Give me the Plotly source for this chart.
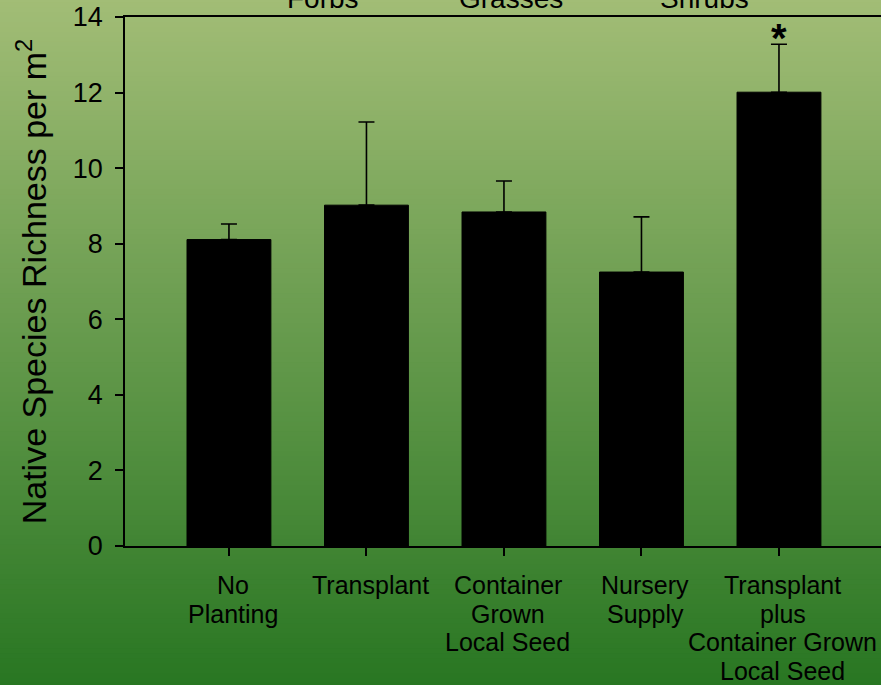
import plotly.graph_objects as go

# Planting treatments and native species richness (mean, upper error)
categories = [
    "No<br>Planting",
    "Transplant",
    "Container<br>Grown<br>Local Seed",
    "Nursery<br>Supply",
    "Transplant<br>plus<br>Container Grown<br>Local Seed",
]
richness = [8.11, 9.02, 8.84, 7.25, 12.01]
error_up = [0.41, 2.20, 0.82, 1.46, 1.27]
significance = ["", "", "", "", "*"]
group_labels = ["Forbs", "Grasses", "Shrubs"]
group_positions = [0.684, 2.05, 3.46]

y_ticks = [0, 2, 4, 6, 8, 10, 12, 14]

FONT = "Liberation Sans, Arial, sans-serif"
LABEL_SIZE = 25
LINE_STEP = 28.5

fig = go.Figure()

fig.add_trace(go.Bar(
    x=list(range(len(categories))),
    y=richness,
    width=0.61,
    marker=dict(color="black", line=dict(color="black", width=1)),
    error_y=dict(type="data", array=error_up, arrayminus=[0] * len(error_up),
                 symmetric=False, color="black", thickness=1.6, width=8),
    showlegend=False,
))

# vertical background gradient (light olive at top to deep green at bottom)
top_rgb = (162, 189, 118)
bot_rgb = (40, 118, 34)
n_strips = 140
y_top, y_bot = 1.035, -0.27
shapes = []
for i in range(n_strips):
    t = i / (n_strips - 1)
    c = tuple(round(top_rgb[k] + (bot_rgb[k] - top_rgb[k]) * t) for k in range(3))
    y0 = y_top + (y_bot - y_top) * i / n_strips
    y1 = y_top + (y_bot - y_top) * (i + 1) / n_strips
    shapes.append(dict(type="rect", xref="paper", yref="paper",
                       x0=-0.2, x1=1.05, y0=y1 - 0.002, y1=y0 + 0.002,
                       fillcolor="rgb(%d,%d,%d)" % c, line=dict(width=0),
                       layer="below"))

annotations = []
for lab, pos in zip(group_labels, group_positions):
    annotations.append(dict(x=pos, y=1, xref="x", yref="paper", text=lab,
                            showarrow=False, yanchor="bottom", yshift=1,
                            font=dict(family=FONT, size=28, color="black")))
for i, s in enumerate(significance):
    if s:
        annotations.append(dict(x=i, y=richness[i] + error_up[i], xref="x", yref="y",
                                text="<b>%s</b>" % s, showarrow=False, yanchor="bottom",
                                yshift=-18,
                                font=dict(family=FONT, size=40, color="black")))

# category labels, one line at a time for tight line spacing
for i, lab in enumerate(categories):
    for k, line in enumerate(lab.split("<br>")):
        annotations.append(dict(x=i, y=0, xref="x", yref="paper", text=line,
                                showarrow=False, yanchor="top", xshift=4,
                                yshift=-23 - k * LINE_STEP,
                                font=dict(family=FONT, size=LABEL_SIZE, color="black")))

fig.update_layout(
    width=881, height=685,
    margin=dict(l=125, r=0, t=17, b=139),
    paper_bgcolor="rgba(0,0,0,0)",
    plot_bgcolor="rgba(0,0,0,0)",
    font=dict(family=FONT, color="black"),
    shapes=shapes,
    annotations=annotations,
    bargap=0.3,
    xaxis=dict(
        range=[-0.756, 4.742],
        tickmode="array", tickvals=list(range(len(categories))),
        showticklabels=False,
        ticks="outside", ticklen=8, tickwidth=1.5, tickcolor="black",
        showline=True, linecolor="black", linewidth=1.5, mirror=True,
        showgrid=False, zeroline=False,
    ),
    yaxis=dict(
        range=[0, 14], tickmode="array", tickvals=y_ticks,
        ticks="outside", ticklen=8, tickwidth=1.5, tickcolor="black",
        showline=True, linecolor="black", linewidth=1.5,
        showgrid=False, zeroline=False, ticklabelstandoff=7,
        tickfont=dict(family=FONT, size=27, color="black"),
        title=dict(text="Native Species Richness per m<sup>2</sup>",
                   font=dict(family=FONT, size=34, color="black"), standoff=16),
    ),
)

fig.write_html("out.html")
